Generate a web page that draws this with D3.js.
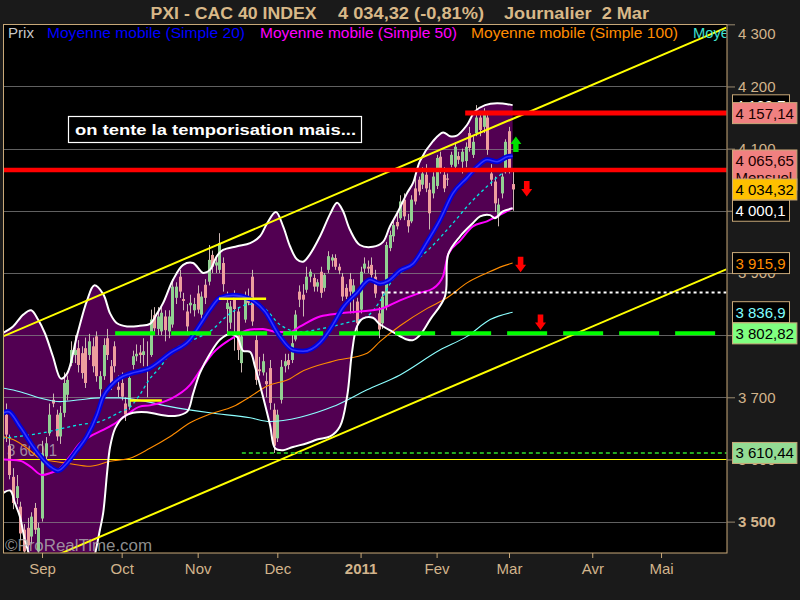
<!DOCTYPE html>
<html><head><meta charset="utf-8">
<script src="https://cdn.jsdelivr.net/npm/d3@7"></script>
<style>
html,body{margin:0;padding:0;background:#1a1a1a;}
svg{display:block;}
text{font-family:"Liberation Sans",Arial,sans-serif;}
</style>
</head><body>
<svg id="chart" width="800" height="600"></svg>
<script>
// ---------------- DATA ----------------
const titleParts = ["PXI - CAC 40 INDEX", "4 034,32 (-0,81%)", "Journalier  2 Mar"];
const legendLabels = ["Prix", "Moyenne mobile (Simple 20)", "Moyenne mobile (Simple 50)", "Moyenne mobile (Simple 100)", "Moye"];
const monthLabels = ["Sep","Oct","Nov","Dec","2011","Fev","Mar","Avr","Mai"];
const monthIndex  = [0, 22, 43, 65, 88, 109, 129, 152, 171];   // trading-day index of 1st session
const yTicks = [3500, 3600, 3700, 3800, 3900, 4000, 4100, 4200, 4300];
const yTickLabelsShown = [3500, 3600, 3700, 3900, 4100, 4200, 4300]; // 3800 / 4000 are fully covered by value boxes

// daily candles [open, high, low, close], first one is trading-day index -10 (18 Aug 2010)
const startIndex = -10;
const candles = [
[3672,3690,3628,3640],[3622,3640,3568,3575],[3572,3586,3520,3530],[3538,3575,3528,3557],
[3524,3532,3470,3481],[3487,3496,3440,3452],[3490,3506,3455,3462],[3476,3515,3465,3508],
[3522,3530,3480,3487],[3452,3498,3445,3490],
[3505,3630,3500,3610],[3605,3636,3598,3626],[3642,3690,3638,3672],[3696,3706,3684,3690],
[3672,3680,3630,3637],[3637,3686,3625,3675],[3675,3740,3668,3723],[3704,3735,3695,3728],
[3755,3790,3750,3776],[3768,3800,3755,3776],[3779,3792,3740,3752],[3771,3782,3730,3739],
[3779,3796,3715,3723],[3768,3802,3760,3790],[3782,3796,3740,3750],[3798,3806,3725,3734],
[3713,3742,3700,3734],[3734,3795,3728,3784],[3795,3810,3760,3768],[3750,3760,3712,3723],
[3782,3790,3740,3750],[3717,3735,3700,3712],
[3723,3740,3695,3701],[3690,3700,3662,3672],[3685,3738,3680,3731],[3752,3775,3745,3766],
[3766,3785,3758,3770],[3772,3784,3755,3768],[3768,3795,3750,3774],[3748,3790,3700,3745],
[3768,3841,3765,3825],[3832,3845,3805,3811],[3810,3845,3800,3830],[3806,3846,3800,3836],
[3830,3840,3790,3808],[3806,3840,3795,3830],[3817,3890,3812,3878],[3860,3885,3850,3878],
[3894,3905,3860,3870],[3858,3868,3840,3855],[3838,3850,3800,3814],[3848,3865,3835,3852],
[3840,3860,3830,3850],
[3867,3880,3835,3841],[3833,3870,3825,3862],[3881,3890,3850,3860],[3886,3945,3880,3921],
[3929,3936,3900,3910],[3912,3925,3900,3917],[3905,3964,3900,3948],[3916,3925,3870,3882],
[3842,3870,3800,3852],[3820,3855,3810,3846],[3866,3872,3775,3842],[3838,3845,3760,3776],
[3755,3805,3740,3798],[3825,3870,3820,3857],[3862,3875,3848,3852],[3894,3905,3815,3822],
[3792,3800,3720,3728],[3745,3765,3735,3742],[3740,3770,3735,3758],[3726,3740,3700,3721],
[3747,3760,3680,3691],[3680,3690,3610.44,3622],
[3634,3680,3628,3672],[3696,3760,3690,3749],[3750,3770,3740,3758],[3760,3770,3745,3752],
[3760,3800,3755,3787],[3793,3840,3790,3833],[3870,3880,3845,3857],[3865,3882,3830,3857],
[3873,3910,3868,3894],[3894,3906,3885,3902],[3892,3898,3870,3878],[3878,3890,3870,3885],
[3902,3910,3860,3868],[3876,3900,3870,3897],[3905,3935,3900,3927],[3920,3930,3910,3925],
[3924,3930,3905,3910],[3910,3915,3898,3904],[3894,3900,3855,3862],[3876,3882,3858,3862],
[3890,3900,3835,3870],[3862,3890,3835,3880],[3854,3860,3800,3819],
[3841,3910,3835,3902],[3907,3925,3900,3915],[3910,3920,3900,3907],[3913,3925,3890,3897],
[3894,3905,3860,3867],[3835,3845,3795,3809],[3819,3870,3810,3862],[3846,3950,3840,3945],
[3940,3968,3935,3961],[3959,3985,3950,3977],[3982,3995,3970,3975],[3988,4025,3985,4015],
[4018,4028,3985,3991],[3985,3995,3965,3975],[3983,4025,3980,4018],[4036,4060,4010,4015],
[4050,4055,4025,4031],[4042,4070,4035,4060],[4058,4075,4030,4036],[4034,4045,3970,3996],
[4028,4062,4020,4055],
[4040,4090,4035,4085],[4087,4095,4060,4068],[4058,4070,4030,4036],[4052,4060,4040,4050],
[4074,4095,4070,4090],[4071,4110,4065,4103],[4088,4095,4075,4082],[4079,4100,4060,4095],
[4080,4110,4070,4103],[4125,4135,4095,4101],[4090,4120,4085,4111],[4125,4170,4120,4150],
[4150,4160,4120,4130],[4135,4165,4125,4157.14],[4150,4157,4090,4098],[4060,4075,4040,4050],
[4047,4055,3998,4012],[3991,4020,3975,4010],[4028,4060,4020,4055],[4066,4115,4060,4111],
[4128,4135,4060,4067.3],[4043,4065,4000,4034.32]
];

// indicator lines: [trading-day index, value]
const ma20 = [[-11,3674],[-9.4,3677],[-6.1,3653],[-2.5,3621],[0.3,3600],[2.2,3589],[4.4,3582],[6.9,3594],[9.7,3615],[12.4,3637],[15.2,3672],[16.9,3701],[19.3,3720],[21.5,3731],[24.3,3738],[29.8,3747],[35.4,3771],[40.9,3793],[43.6,3816],[46.4,3841],[49.2,3860],[52.8,3864],[57.5,3858],[61.6,3838],[65.7,3798],[69.3,3776],[72.1,3774],[76.8,3788],[80.4,3817],[83.1,3844],[87,3868],[90.6,3889],[93.4,3883],[95.6,3887],[98.9,3904],[102.5,3915],[106.4,3950],[109.9,3985],[113.5,4028],[117.4,4053],[120.2,4071],[123,4082],[125.7,4079],[128.5,4087],[130,4088]];
const ma50 = [[-11,3600],[-6.1,3598],[-3.3,3589],[0,3575],[2.2,3578],[5,3586],[7.7,3605],[10.5,3626],[13.3,3637],[16,3645],[19.6,3656],[23.5,3672],[27,3685],[29.8,3687],[35.4,3697],[40.9,3720],[44.5,3750],[47.2,3771],[52,3793],[57.5,3809],[61,3810],[65,3805],[68.5,3805],[71.3,3814],[76.8,3830],[82.3,3835],[87.8,3838],[93.4,3842],[98.9,3856],[104.4,3868],[108,3875],[110.8,3895],[112.2,3930],[115.5,3952],[119,3975],[122.9,3983],[125.7,3991],[130,4004]];
const ma100 = [[-11,3637],[-8,3632],[-4.1,3618],[-0.6,3602],[3,3597],[6.9,3594],[13.3,3589],[18.8,3597],[24.3,3602],[29.8,3618],[35.4,3637],[40.9,3659],[46.4,3673],[52.8,3685],[57.5,3701],[62.2,3718],[68.5,3730],[71.3,3740],[80.4,3758],[89.8,3771],[93.4,3790],[98.9,3815],[106.4,3843],[111.9,3860],[117.4,3884],[122.9,3900],[127.3,3911],[130,3915.9]];
const ma200 = [[-11,3715],[-6.1,3709],[-0.6,3699],[5,3693],[10.5,3696],[16,3699],[21.5,3699],[27,3695],[35.4,3685],[46.4,3675],[57.5,3667],[63,3661],[71.3,3668],[80.4,3685],[89.8,3712],[98.9,3736],[109.9,3776],[117.4,3798],[123.8,3825],[130,3836.9]];
const maDashed = [[-11,3634],[-0.6,3642],[10.5,3656],[16,3661],[21.5,3676],[24.3,3684],[27,3704],[29.8,3730],[32.6,3748],[35.4,3771],[40.9,3790],[46.4,3806],[52,3835],[57.5,3850],[61,3845],[65.7,3817],[71.3,3805],[76.8,3810],[84.3,3820],[89.8,3830],[93.4,3855],[97,3890],[100.8,3908],[107.2,3940],[113.5,3980],[118.2,4012],[122.9,4039],[127.3,4061],[129,4068]];
const bbUpper = [[-11,3803],[-8,3814],[-5.2,3833],[-3,3840],[-1.1,3825],[0.8,3803],[3,3766],[5.2,3730],[6.9,3738],[9.7,3800],[12.4,3855],[14.4,3880],[16.9,3866],[18.8,3835],[20.7,3819],[23.5,3814],[27,3815],[29.8,3818],[31.8,3835],[33.4,3851],[36.2,3889],[39,3913],[41.7,3916],[44.5,3900],[46.4,3905],[48.3,3927],[50,3937],[53.9,3943],[57.5,3948],[60.2,3959],[62.2,3980],[64.6,3998],[66.6,3975],[68.5,3943],[70.4,3922],[72.1,3918],[74,3930],[76.8,3959],[79.6,3995],[81.5,4013],[83.1,4000],[85.1,3969],[87.8,3945],[91.4,3942],[94.2,3950],[96.1,3975],[98.1,3996],[100.8,4028],[102.5,4045],[104.4,4080],[108,4112],[110.8,4126],[112.7,4120],[114.6,4121],[117.4,4138],[119.6,4160],[122.4,4170],[125.7,4173],[130,4170]];
const bbLower = [[-11,3545],[-8.8,3550],[-7.5,3530],[-6.1,3508],[-4.7,3470],[-1.9,3420],[2.2,3380],[6.4,3370],[10.5,3390],[13.8,3430],[16,3487],[16.9,3514],[18,3580],[18.8,3620],[20.2,3650],[22.4,3668],[25.1,3675],[29,3676],[32.6,3672],[36.7,3670],[40.1,3677],[41.7,3705],[43.6,3739],[46.4,3770],[49.2,3793],[51.9,3802],[53.9,3797],[55.5,3775],[57.5,3773],[58.8,3750],[61,3702],[63,3655],[64.4,3618],[66.6,3615],[69.3,3620],[73.2,3626],[76,3632],[79.6,3637],[82.3,3653],[84.3,3702],[85.6,3771],[87,3814],[88.7,3827],[91.4,3828],[93.4,3817],[97,3805],[100.8,3793],[102.5,3792],[104.4,3800],[107.2,3825],[111.3,3862],[112.2,3930],[115.5,3959],[119,3980],[121,3991],[123.8,3993],[125.1,3988],[127.3,3999],[130,4004]];

// drawn channel and levels
const channelUpper = [[-11,3797.4],[189,4294.6]];
const channelLower = [[-11,3408.5],[189,3905.8]];
const redLevels = [4157.14, 4065.65];
const redFrom   = [116.9, -11];
const greenDashLevel = 3802.82, greenDashFrom = 20.2;
const whiteDotLevel  = 3868.6,  whiteDotFrom  = 93.8;
const greenDotLevel  = 3610.44, greenDotFrom  = 55.2;
const yellowLevel    = 3600;
const yellowSegLevels = [3858.4, 3694.9];
const yellowSegFrom   = [48.9, 24.3];
const yellowSegTo     = [61.9, 33.1];
const arrowIdx = [130.9, 133.9, 132.2, 137.7];
const arrowTop = [4119.5, 4048, 3926, 3833];
const arrowDir = ["up", "down", "down", "down"];

const rightLabelValues = [4169.7, 4157.14, 4065.65, 4034.32, 4000.1, 3915.9, 3836.9, 3802.82, 3610.44];
const rightLabelTexts  = ["4 169,7","4 157,14","4 065,65","4 034,32","4 000,1","3 915,9","3 836,9","3 802,82","3 610,44"];
const rightLabelSub    = ["","","Mensuel","","","","","",""];
const annotationText = "on tente la temporisation mais...";
const leftLevelText = "3 600,1";
const copyrightText = "\u00A9ProRealTime.com";

// ---------------- DRAWING ----------------
const svg = d3.select("#chart");
const W = 800, H = 600;
const P = {l: 3.5, r: 727, t: 24, b: 553};

const x = d3.scaleLinear().domain([-11, 189]).range([2.2, 726.2]);
const y = d3.scaleLinear().domain([3450, 4300]).range([552.7, 24.3]);

svg.append("rect").attr("width", W).attr("height", H).attr("fill", "#1a1a1a");
svg.append("rect").attr("x", P.l).attr("y", P.t).attr("width", P.r - P.l).attr("height", P.b - P.t).attr("fill", "#000");

svg.append("defs").append("clipPath").attr("id", "clip")
  .append("rect").attr("x", P.l + 0.5).attr("y", P.t + 0.5).attr("width", P.r - P.l - 1).attr("height", P.b - P.t - 1);

const g = svg.append("g").attr("clip-path", "url(#clip)");

const lineC = d3.line().x(d => x(d[0])).y(d => y(d[1])).curve(d3.curveCatmullRom.alpha(0.5));
const lineM = d3.line().x(d => x(d[0])).y(d => y(d[1])).curve(d3.curveMonotoneX);
const lineS = d3.line().x(d => x(d[0])).y(d => y(d[1]));

// Bollinger fill
const bandPath = lineC(bbUpper) + "L" + lineC(bbLower.slice().reverse()).slice(1) + "Z";
g.append("path").attr("d", bandPath).attr("fill", "#520052");

// gridlines
g.selectAll("line.grid").data(yTicks.filter(v => v !== yellowLevel)).join("line")
  .attr("x1", P.l).attr("x2", P.r)
  .attr("y1", d => Math.round(y(d)) + 0.5).attr("y2", d => Math.round(y(d)) + 0.5)
  .attr("stroke", "#8a8a8a").attr("stroke-opacity", 0.7).attr("stroke-width", 1);

// yellow 3600 level
g.append("line").attr("x1", P.l).attr("x2", P.r)
  .attr("y1", Math.round(y(yellowLevel)) + 0.5).attr("y2", Math.round(y(yellowLevel)) + 0.5)
  .attr("stroke", "#ffff00").attr("stroke-width", 1.2);

// left level text
g.append("text").attr("x", 7).attr("y", 456).attr("font-size", 16)
  .attr("fill", "#b0a4b0").attr("fill-opacity", 0.85)
  .attr("textLength", 50).attr("lengthAdjust", "spacingAndGlyphs").text(leftLevelText);

// candles
const cdata = candles.map((d, i) => ({i: startIndex + i, o: d[0], h: d[1], l: d[2], c: d[3]}));
const cg = g.append("g");
cg.selectAll("line").data(cdata).join("line")
  .attr("x1", d => Math.round(x(d.i)) + 0.5).attr("x2", d => Math.round(x(d.i)) + 0.5)
  .attr("y1", d => y(d.h)).attr("y2", d => y(d.l))
  .attr("stroke", "#cdb8b4").attr("stroke-width", 1);
cg.selectAll("rect").data(cdata).join("rect")
  .attr("x", d => Math.round(x(d.i)) - 1)
  .attr("width", 3)
  .attr("y", d => y(Math.max(d.o, d.c)))
  .attr("height", d => Math.max(1.2, Math.abs(y(d.o) - y(d.c))))
  .attr("fill", d => d.c >= d.o ? "#92d092" : "#ee9e9e");

// moving averages
g.append("path").attr("d", lineM(ma200)).attr("fill", "none").attr("stroke", "#8cffff").attr("stroke-width", 1.1);
g.append("path").attr("d", lineM(ma100)).attr("fill", "none").attr("stroke", "#ff8c00").attr("stroke-width", 1.1);
g.append("path").attr("d", lineM(maDashed)).attr("fill", "none").attr("stroke", "#00e6e6").attr("stroke-width", 1.3).attr("stroke-dasharray", "3,3");
g.append("path").attr("d", lineM(ma50)).attr("fill", "none").attr("stroke", "#ff00ff").attr("stroke-width", 2);
g.append("path").attr("d", lineM(ma20)).attr("fill", "none").attr("stroke", "#0000dc").attr("stroke-width", 5);
g.append("path").attr("d", lineM(ma20)).attr("fill", "none").attr("stroke", "#3434ff").attr("stroke-width", 1.6);

// Bollinger lines
g.append("path").attr("d", lineC(bbUpper)).attr("fill", "none").attr("stroke", "#fff").attr("stroke-width", 2);
g.append("path").attr("d", lineC(bbLower)).attr("fill", "none").attr("stroke", "#fff").attr("stroke-width", 2);

// channel lines
[channelUpper, channelLower].forEach(c => {
  g.append("path").attr("d", lineS(c)).attr("fill", "none").attr("stroke", "#ffff00").attr("stroke-width", 2);
});

// horizontal levels
g.append("line").attr("x1", x(greenDashFrom)).attr("x2", P.r)
  .attr("y1", y(greenDashLevel)).attr("y2", y(greenDashLevel))
  .attr("stroke", "#00ff00").attr("stroke-width", 4).attr("stroke-dasharray", "40,16");
g.append("line").attr("x1", x(whiteDotFrom)).attr("x2", P.r)
  .attr("y1", y(whiteDotLevel)).attr("y2", y(whiteDotLevel))
  .attr("stroke", "#ffffff").attr("stroke-width", 2).attr("stroke-dasharray", "3,3");
g.append("line").attr("x1", x(greenDotFrom)).attr("x2", P.r)
  .attr("y1", y(greenDotLevel)).attr("y2", y(greenDotLevel))
  .attr("stroke", "#22a822").attr("stroke-width", 2).attr("stroke-dasharray", "4,3");
yellowSegLevels.forEach((v, k) => {
  g.append("line").attr("x1", x(yellowSegFrom[k])).attr("x2", x(yellowSegTo[k]))
    .attr("y1", y(v)).attr("y2", y(v)).attr("stroke", "#ffff00").attr("stroke-width", 2.5);
});
redLevels.forEach((v, k) => {
  g.append("line").attr("x1", Math.max(P.l, x(redFrom[k]))).attr("x2", P.r)
    .attr("y1", y(v)).attr("y2", y(v)).attr("stroke", "#ff0000").attr("stroke-width", k === 0 ? 5 : 4.5);
});

// arrows
arrowIdx.forEach((ai, k) => {
  const cx = x(ai), t = y(arrowTop[k]);
  let p;
  if (arrowDir[k] === "up") {
    p = `M${cx},${t} L${cx+5.5},${t+7.5} L${cx+2.7},${t+7.5} L${cx+2.7},${t+15.5} L${cx-2.7},${t+15.5} L${cx-2.7},${t+7.5} L${cx-5.5},${t+7.5} Z`;
  } else {
    p = `M${cx-2.8},${t} L${cx+2.8},${t} L${cx+2.8},${t+8} L${cx+5.5},${t+8} L${cx},${t+15.5} L${cx-5.5},${t+8} L${cx-2.8},${t+8} Z`;
  }
  g.append("path").attr("d", p).attr("fill", arrowDir[k] === "up" ? "#00e000" : "#ff0000");
});

// legend
const legendX = [8, 47, 260, 471, 693];
const legendW = [26, 198, 197, 207, 36];
const legendC = ["#c8c8c8", "#0000ff", "#ff00ff", "#ff8c00", "#40e0d0"];
legendLabels.forEach((t, k) => {
  g.append("text").attr("x", legendX[k]).attr("y", 38).attr("font-size", 14)
    .attr("fill", legendC[k]).attr("textLength", legendW[k]).attr("lengthAdjust", "spacingAndGlyphs").text(t);
});

// annotation box
g.append("rect").attr("x", 68.5).attr("y", 116.5).attr("width", 293).attr("height", 26)
  .attr("fill", "#000").attr("stroke", "#ffffff").attr("stroke-width", 1.2);
g.append("text").attr("x", 75).attr("y", 135).attr("font-size", 15).attr("font-weight", "bold")
  .attr("fill", "#fff").attr("textLength", 281).attr("lengthAdjust", "spacingAndGlyphs").text(annotationText);

// copyright
g.append("text").attr("x", 5).attr("y", 551).attr("font-size", 16).attr("fill", "#b4b4b4").attr("fill-opacity", 0.8)
  .attr("textLength", 147).attr("lengthAdjust", "spacingAndGlyphs").text(copyrightText);

// frame
svg.append("rect").attr("x", P.l).attr("y", P.t + 0.5).attr("width", P.r - P.l).attr("height", P.b - P.t - 0.5)
  .attr("fill", "none").attr("stroke", "#c8a878").attr("stroke-width", 1);

// y axis
const fmt = v => yTickLabelsShown.includes(v) ? d3.format(",")(v).replace(/,/g, " ") : "";
const yAxis = d3.axisRight(y).tickValues(yTicks).tickSize(8).tickPadding(3).tickFormat(fmt);
const ya = svg.append("g").attr("transform", `translate(${P.r},0)`).call(yAxis);
ya.select(".domain").remove();
ya.selectAll(".tick line").attr("stroke", "#9a8a70");
ya.selectAll(".tick text").attr("fill", "#d2b48c").attr("font-size", 15)
  .attr("font-family", "Liberation Sans, Arial, sans-serif")
  .attr("font-weight", d => d === 3500 ? "bold" : "normal")
  .attr("dy", d => d === 4300 ? "0.95em" : "0.32em");

// right value boxes
const boxFill  = ["#000000", "#f08080", "#f08080", "#ffc000", "#000000", "#000000", "#000000", "#80ff80", "#94dc94"];
const boxColor = ["#ffffff", "#1a0000", "#1a0000", "#000000", "#ffffff", "#ff8c00", "#80ffff", "#000000", "#000000"];
rightLabelValues.forEach((v, k) => {
  const two = rightLabelSub[k] !== "";
  const cy = y(v);
  const h = two ? 40 : 21;
  const top = two ? cy - 20 : cy - h / 2;
  const gg = svg.append("g");
  const r = gg.append("rect").attr("x", 732.5).attr("y", top).attr("height", h)
    .attr("fill", boxFill[k]).attr("stroke", "#c8a878").attr("stroke-width", 1);
  const t = gg.append("text").attr("x", 735.5).attr("y", two ? top + 16 : cy + 5.5)
    .attr("font-size", 15).attr("fill", boxColor[k]).text(rightLabelTexts[k]);
  if (two) gg.append("text").attr("x", 735.5).attr("y", top + 33).attr("font-size", 15).attr("fill", boxColor[k]).text(rightLabelSub[k]);
  const w = t.node().getComputedTextLength();
  r.attr("width", Math.max(57, w + 6));
});

// x axis
const xAxis = d3.axisBottom(x).tickValues(monthIndex).tickSize(5).tickPadding(5).tickFormat((d, i) => monthLabels[i]);
const xa = svg.append("g").attr("transform", `translate(0,${P.b})`).call(xAxis);
xa.select(".domain").remove();
xa.selectAll(".tick line").attr("stroke", "#c8a878");
xa.selectAll(".tick text").attr("fill", "#d2b48c").attr("font-size", 15)
  .attr("font-family", "Liberation Sans, Arial, sans-serif")
  .attr("font-weight", (d, i) => monthLabels[i] === "2011" ? "bold" : "normal");

// title
const titleX = [150.5, 338, 504];
const titleW = [166, 146, 145];
titleParts.forEach((t, k) => {
  svg.append("text").attr("x", titleX[k]).attr("y", 18.5).attr("font-size", 16).attr("font-weight", "bold")
    .attr("fill", "#d8b888").attr("textLength", titleW[k]).attr("lengthAdjust", "spacingAndGlyphs")
    .style("white-space", "pre").text(t);
});
</script>
</body></html>
